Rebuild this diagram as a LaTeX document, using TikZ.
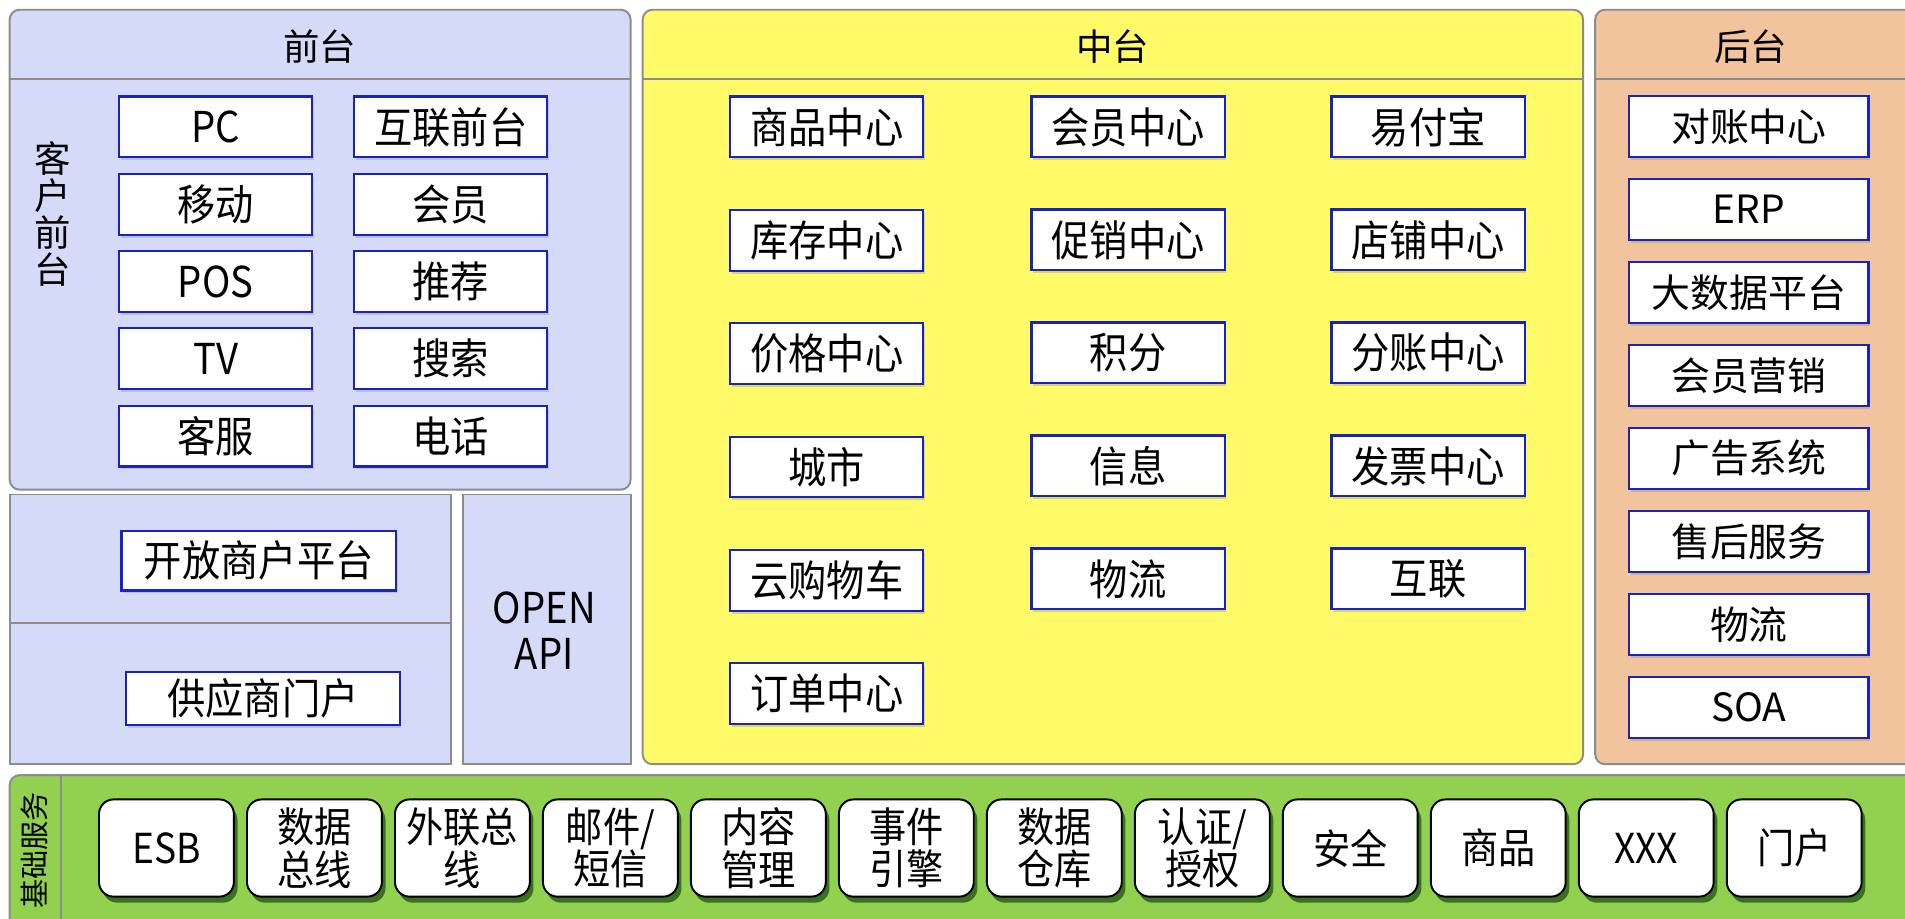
\documentclass[tikz,border=0pt]{standalone}
\usepackage{fontspec}
\newfontfamily\cjk{Noto Sans CJK SC}
\newfontfamily\cjkn[FakeStretch=0.9]{Noto Sans CJK SC}
\usetikzlibrary{shadows}
\definecolor{frontbg}{RGB}{214,218,249}
\definecolor{midbg}{RGB}{255,251,104}
\definecolor{backbg}{RGB}{242,196,158}
\definecolor{basebg}{RGB}{146,208,80}
\definecolor{panelline}{RGB}{140,140,140}
\definecolor{boxline}{RGB}{25,35,190}
\tikzset{
  panel/.style={draw=panelline, line width=0.8pt, rounded corners=4pt},
  title/.style={font=\cjk\fontsize{15}{18}\selectfont},
  cell/.style={draw=boxline, fill=white, line width=0.9pt, inner sep=0pt,
    minimum width=79.5pt, minimum height=25pt, font=\cjkn\fontsize{17.5}{18}\selectfont,
    drop shadow={shadow xshift=0.6pt, shadow yshift=-1.2pt, opacity=0.3}},
  backcell/.style={cell, minimum width=98.5pt, font=\cjk\fontsize{16}{18}\selectfont},
  basecell/.style={draw=black, fill=white, line width=0.8pt, inner sep=0pt, rounded corners=6pt,
    minimum width=55.5pt, minimum height=40pt, align=center, font=\cjkn\fontsize{17}{17.5}\selectfont,
    drop shadow={shadow xshift=1.5pt, shadow yshift=-2.5pt, opacity=0.6, fill=black!80!green}}
}
\begin{document}
\begin{tikzpicture}[x=0.5pt, y=-0.5pt]
\clip (0,0) rectangle (1568,756);
\fill[white] (0,0) rectangle (1568,756);
% panels
\draw[panel, fill=frontbg] (8,8) rectangle (519,403);
\draw[panelline, line width=0.8pt] (8,65) -- (519,65);
\draw[panel, fill=frontbg, rounded corners=0pt] (8,407) rectangle (371,629);
\draw[panelline, line width=0.8pt] (8,513) -- (371,513);
\draw[panel, fill=frontbg, rounded corners=0pt] (381,407) rectangle (519,629);
\draw[panel, fill=midbg] (529,8) rectangle (1303,629);
\draw[panelline, line width=0.8pt] (529,65) -- (1303,65);
\draw[panel, fill=backbg] (1313,8) rectangle (1600,629);
\draw[panelline, line width=0.8pt] (1313,65) -- (1600,65);
\draw[panel, fill=basebg] (8,638) rectangle (1600,800);
\draw[panelline, line width=0.8pt] (50,638) -- (50,800);

\node[title] (front) at (263,38) {前台};
\node[title] (mid) at (916,38) {中台};
\node[title] (back) at (1441,38) {后台};
\node[align=center, font=\cjk\fontsize{15}{15.3}\selectfont] (client) at (43,176) {客\\户\\前\\台};
\node[rotate=90, font=\cjk\fontsize{12}{14}\selectfont] (base) at (28,700) {基础服务};
\node[align=center, font=\cjkn\fontsize{17.5}{19}\selectfont] (openapi) at (448,519) {OPEN\\API};

% front
\foreach \txt [count=\i from 0] in {PC,移动,POS,TV,客服}
  \node[cell] (fl\i) at (177.5,104.5+63.6*\i) {\txt};
\foreach \txt [count=\i from 0] in {互联前台,会员,推荐,搜索,电话}
  \node[cell] (fr\i) at (371,104.5+63.6*\i) {\txt};
\node[cell, minimum width=113pt, minimum height=24.5pt] (merchant) at (213,461.5) {开放商户平台};
\node[cell, minimum width=112.5pt, minimum height=22pt] (supplier) at (216.5,575) {供应商门户};

% mid
\foreach \txt [count=\i from 0] in {商品中心,库存中心,价格中心,城市,云购物车,订单中心}
  \node[cell] (ma\i) at (680.5,104.5+93.3*\i) {\txt};
\foreach \txt [count=\i from 0] in {会员中心,促销中心,积分,信息,物流}
  \node[cell] (mb\i) at (928.5,104.5+93*\i) {\txt};
\foreach \txt [count=\i from 0] in {易付宝,店铺中心,分账中心,发票中心,互联}
  \node[cell] (mc\i) at (1175.5,104.5+93*\i) {\txt};

% back
\foreach \txt [count=\i from 0] in {对账中心,ERP,大数据平台,会员营销,广告系统,售后服务,物流,SOA}
  \node[backcell] (bk\i) at (1439.5,104+68.3*\i) {\txt};

% base services
\foreach \txt [count=\i from 0] in {ESB,{数据\\总线},{外联总\\线},{邮件/\\短信},{内容\\管理},{事件\\引擎},{数据\\仓库},{认证/\\授权},安全,商品,XXX,门户}
  \node[basecell] (bs\i) at (137+121.8*\i,698) {\txt};
\end{tikzpicture}
\end{document}
